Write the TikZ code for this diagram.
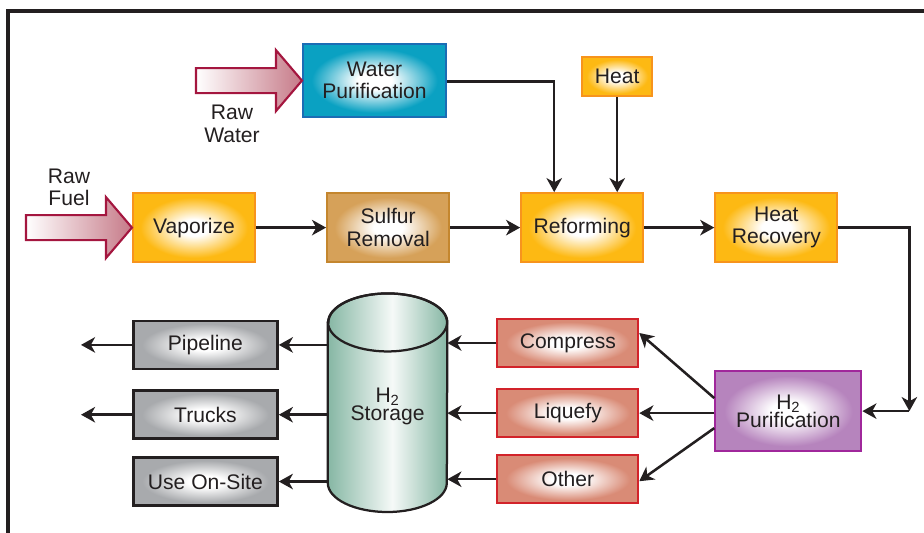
\documentclass[tikz,border=0pt]{standalone}
\usepackage{fontspec}
\setmainfont{Liberation Sans}
\usepackage{tikz}
\usetikzlibrary{arrows.meta, positioning, calc}

\definecolor{ink}{HTML}{231F20}
\definecolor{ambfill}{HTML}{FDB913}
\definecolor{ambline}{HTML}{F7941D}
\definecolor{tanfill}{HTML}{D6A159}
\definecolor{tanline}{HTML}{C4862E}
\definecolor{aquafill}{HTML}{0AA1C2}
\definecolor{aqualine}{HTML}{1B6DB5}
\definecolor{rosefill}{HTML}{D98B76}
\definecolor{roseline}{HTML}{D2232A}
\definecolor{lilacfill}{HTML}{B684BD}
\definecolor{lilacline}{HTML}{A0279B}
\definecolor{greyfill}{HTML}{A8AAAD}
\definecolor{tankfill}{HTML}{86B7A4}
\definecolor{wine}{HTML}{A4163F}
\definecolor{winefill}{HTML}{C67A88}

% white glow in the middle of every box
\colorlet{glowcol}{ambfill}
\pgfdeclareradialshading[glowcol]{boxglow}{\pgfpointorigin}{color(0bp)=(white); color(6bp)=(white); color(22bp)=(glowcol); color(50bp)=(glowcol)}
\pgfdeclarehorizontalshading{tankshade}{100bp}{color(0bp)=(tankfill); color(25bp)=(tankfill); color(52bp)=(white!92!tankfill); color(75bp)=(tankfill); color(100bp)=(tankfill)}

\begin{document}
\begin{tikzpicture}[
        font=\fontsize{15}{16}\selectfont, text=ink,
        box/.style 2 args={rectangle, draw=#2, line width=1.5pt, shading=boxglow, /utils/exec={\colorlet{glowcol}{#1}}, minimum width=3.05cm, minimum height=1.72cm, align=center, inner sep=1pt},
        stage/.style={box={ambfill}{ambline}},
        sink/.style={box={rosefill}{roseline}, minimum width=3.52cm, minimum height=1.2cm},
        outlet/.style={box={greyfill}{ink}, line width=2pt, minimum width=3.6cm, minimum height=1.2cm},
        arr/.style={draw=ink, line width=1.8pt, -{Stealth[length=10pt, width=11pt, inset=3pt]}},
        inflow/.style={draw=wine, line width=1.5pt, left color=white, right color=winefill}
    ]
        \useasboundingbox (0,0) rectangle (23.1,-13.3);
        \draw[ink, line width=2.2pt] (0.2,-13.4) -- (0.2,-0.275) -- (23.2,-0.275);

        % main line
        \node[stage] (vap) at (4.85,-5.69) {Vaporize};
        \node[box={tanfill}{tanline}, right=1.75cm of vap] (sulf) {Sulfur\\Removal};
        \node[stage, right=1.75cm of sulf] (refo) {Reforming};
        \node[stage, right=1.75cm of refo] (hrec) {Heat\\Recovery};
        \node[stage, minimum width=1.75cm, minimum height=0.975cm, above=2.375cm of refo, xshift=0.875cm] (heat) {Heat};
        \node[box={aquafill}{aqualine}, minimum width=3.575cm, minimum height=1.825cm, above=1.85cm of sulf, xshift=-0.34cm] (wpur) {Water\\Purification};

        % raw inputs
        \foreach \tgt in {wpur,vap}
            \shade[inflow] (\tgt.west) -- ++(-0.65,0.7625) -- ++(0,-0.45) -- ++(-2.0,0) -- ++(0,-0.625) -- ++(2.0,0) -- ++(0,-0.45) -- cycle;
        \node[align=center] (rawwater) at (5.8,-3.1) {Raw\\Water};
        \node[align=center] (rawfuel) at (1.725,-4.68) {Raw\\Fuel};

        \draw[arr] (vap) -- (sulf);
        \draw[arr] (sulf) -- (refo);
        \draw[arr] (refo) -- (hrec);
        \draw[arr] (heat.south) -- (heat.south |- refo.north);
        \draw[arr] ([yshift=-0.02cm]wpur.east) -| ($(refo.north)+(-0.7,0)$);

        % purification and conditioning
        \node[box={lilacfill}{lilacline}, minimum width=3.65cm, minimum height=2cm, below=2.675cm of hrec, xshift=0.3cm] (h2p) {H\textsubscript{2}\\[-3pt]Purification};
        \coordinate (turn) at ($(h2p.east)+(1.175,0)$);
        \draw[arr] (hrec.east) -| (turn);
        \draw[arr] (turn) -- (h2p.east);

        \node[sink, left=1.875cm of h2p, yshift=-0.05cm] (liq) {Liquefy};
        \node[sink, above=0.5cm of liq] (comp) {Compress};
        \node[sink, below=0.4cm of liq] (oth) {Other};
        \draw[arr] ([yshift=0.325cm]h2p.west) -- ([yshift=0.25cm]comp.east);
        \draw[arr] (h2p.west |- liq.east) -- (liq.east);
        \draw[arr] ([yshift=-0.425cm]h2p.west) -- ([yshift=-0.05cm]oth.east);

        % storage tank
        \node[minimum width=2.975cm, minimum height=5.45cm, inner sep=0pt, left=1.225cm of liq, yshift=0.26cm] (stor) {};
        \shade[shading=tankshade, draw=ink, line width=1.6pt] ($(stor.north west)+(0,-0.725)$) -- ($(stor.south west)+(0,0.725)$) arc[start angle=180, end angle=360, x radius=1.4875cm, y radius=0.725cm] -- ($(stor.north east)+(0,-0.725)$) arc[start angle=0, end angle=180, x radius=1.4875cm, y radius=0.725cm] -- cycle;
        \draw[ink, line width=1.6pt] ($(stor.north)+(0,-0.725)$) ellipse[x radius=1.4875cm, y radius=0.725cm];
        \node[align=center, inner sep=0pt] (storlabel) at ([yshift=-0.1cm]stor.center) {H\textsubscript{2}\\[-3pt]Storage};

        \draw[arr] (comp.west) -- (comp.west -| stor.east);
        \draw[arr] (liq.west) -- (liq.west -| stor.east);
        \draw[arr] (oth.west) -- (oth.west -| stor.east);

        % delivery
        \node[outlet, left=1.225cm of stor, yshift=-0.3cm] (truck) {Trucks};
        \node[outlet, above=0.475cm of truck] (pipe) {Pipeline};
        \node[outlet, below=0.4cm of truck] (site) {Use On-Site};
        \foreach \dst in {pipe,truck,site}
            \draw[arr] (stor.west |- \dst.east) -- (\dst.east);
        \coordinate (pipeout) at ($(pipe.west)+(-1.275,0)$);
        \coordinate (truckout) at ($(truck.west)+(-1.275,0)$);
        \draw[arr] (pipe.west) -- (pipeout);
        \draw[arr] (truck.west) -- (truckout);
    \end{tikzpicture}
\end{document}
